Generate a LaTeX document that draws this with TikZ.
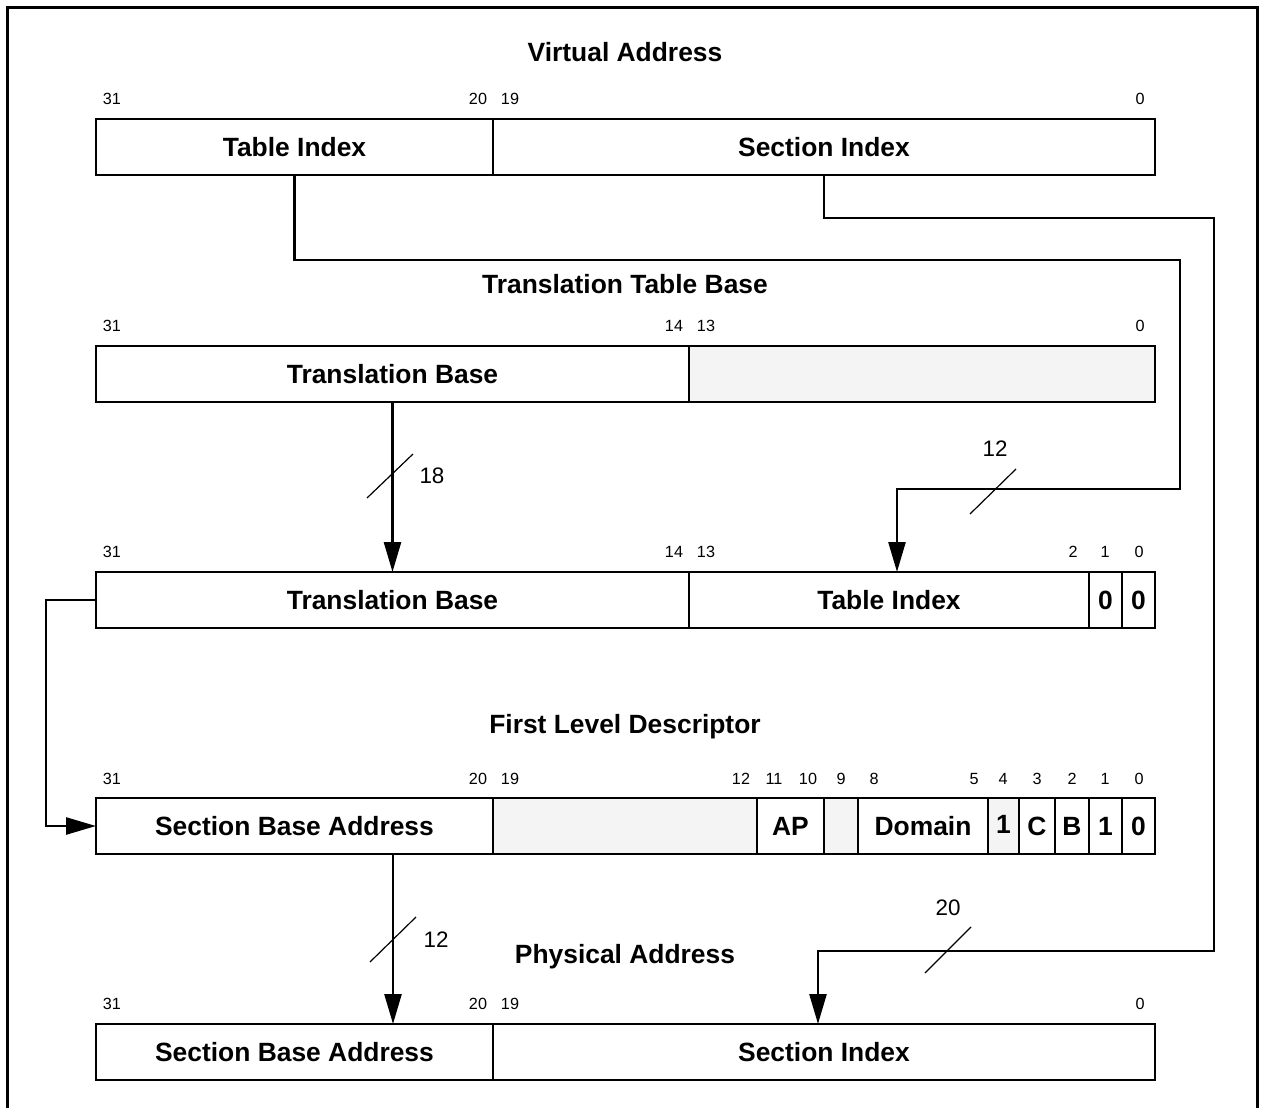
\documentclass[tikz,border=0pt]{standalone}
\usepackage{fontspec}
\setmainfont{Liberation Sans}
\usetikzlibrary{arrows.meta,calc}
\definecolor{reserved}{RGB}{244,244,244}

% one register field: [fill] name, left x, right x, top y, text
\newcommand\regfield[6][white]{%
  \node[field, fill=#1, minimum width={(#4-#3)*0.5pt}] (#2) at ({(#3+#4)/2},{#5+28}) {#6};}

\begin{document}
\begin{tikzpicture}[x=0.5pt,y=-0.5pt,
  field/.style={draw, line width=1.3pt, inner sep=0pt, outer sep=0pt,
                minimum height=28pt, font=\fontsize{13.2}{15}\selectfont\bfseries},
  bitno/.style={inner sep=0pt, font=\fontsize{8.1}{9}\selectfont},
  heading/.style={inner sep=0pt, font=\fontsize{13.2}{15}\selectfont\bfseries},
  conn/.style={line width=1.3pt},
  arr/.style={conn, -{Triangle[length=15pt,width=8.5pt]}},
  slash/.style={line width=0.6pt},
  buswidth/.style={inner sep=0pt, font=\fontsize{11.2}{13}\selectfont}]

\useasboundingbox (0,0) rectangle (1265,1108);

% frame, open at the bottom
\draw[line width=1.5pt] (7.5,1110) -- (7.5,7.5) -- (1257,7.5) -- (1257,1110);

% ---------------- Virtual address ----------------
\node[heading] (vaT) at (625,52) {Virtual Address};
\foreach \x/\b in {112/31,478/20,510/19,1140/0}
  \node[bitno] (va-b\b) at (\x,99) {\b};
\regfield{vaTI}{96}{493}{119}{Table Index}
\regfield{vaSI}{493}{1155}{119}{Section Index}

% ---------------- Translation table base ----------------
\node[heading] (ttbT) at (625,284) {Translation Table Base};
\foreach \x/\b in {112/31,674/14,706/13,1140/0}
  \node[bitno] (ttb-b\b) at (\x,326) {\b};
\regfield{ttbTB}{96}{689}{346}{Translation Base}
\regfield[reserved]{ttbR}{689}{1155}{346}{}

% ---------------- Descriptor address ----------------
\foreach \x/\b in {112/31,674/14,706/13,1073/2,1105/1,1139/0}
  \node[bitno] (da-b\b) at (\x,552) {\b};
\regfield{daTB}{96}{689}{572}{Translation Base}
\regfield{daTI}{689}{1089}{572}{Table Index}
\regfield{daB1}{1089}{1122}{572}{0}
\regfield{daB0}{1122}{1155}{572}{0}

% ---------------- First level descriptor ----------------
\node[heading] (fldT) at (625,727) {First Level Descriptor};
\foreach \x/\b in {112/31,478/20,510/19,741/12,774/11,808/10,841/9,874/8,
                   974/5,1003/4,1037/3,1072/2,1105/1,1139/0}
  \node[bitno] (fld-b\b) at (\x,779) {\b};
\regfield{fldSBA}{96}{493}{798}{Section Base Address}
\regfield[reserved]{fldR1}{493}{757}{798}{}
\regfield{fldAP}{757}{824}{798}{AP}
\regfield[reserved]{fldR2}{824}{858}{798}{}
\regfield{fldDom}{858}{988}{798}{Domain}
\regfield[reserved]{fldB4}{988}{1019}{798}{\raisebox{2pt}{1}}
\regfield{fldC}{1019}{1055}{798}{C}
\regfield{fldB}{1055}{1089}{798}{B}
\regfield{fldB1}{1089}{1122}{798}{1}
\regfield{fldB0}{1122}{1155}{798}{0}

% ---------------- Physical address ----------------
\node[heading] (paT) at (625,957) {Physical Address};
\foreach \x/\b in {112/31,478/20,510/19,1140/0}
  \node[bitno] (pa-b\b) at (\x,1004) {\b};
\regfield{paSBA}{96}{493}{1024}{Section Base Address}
\regfield{paSI}{493}{1155}{1024}{Section Index}

% ---------------- Connectors ----------------
% table index -> descriptor address
\coordinate (tiR) at (1180,260);
\coordinate (tiD) at (897,489);
\draw[arr] (vaTI.south) |- (tiR) |- (tiD) -- (tiD |- daTI.north);
\draw[slash] (970,514) -- (1016,469);
\node[buswidth] (w12a) at (995,449) {12};

% section index -> physical address
\coordinate (siR) at (1214,218);
\coordinate (siD) at (818,951);
\draw[arr] (vaSI.south) |- (siR) |- (siD) -- (siD |- paSI.north);
\draw[slash] (925,973) -- (971,927);
\node[buswidth] (w20) at (948,908) {20};

% translation base -> descriptor address
\draw[arr] (ttbTB.south) -- (daTB.north);
\draw[slash] (367,498) -- (413,454);
\node[buswidth] (w18) at (432,476) {18};

% descriptor address -> first level descriptor
\coordinate (daL) at (46,600);
\draw[arr] (daTB.west) -- (daL) |- (fldSBA.west);

% section base address -> physical address
\draw[arr] ($(fldSBA.south)+(98.5,0)$) -- ($(paSBA.north)+(98.5,0)$);
\draw[slash] (370,962) -- (416,917);
\node[buswidth] (w12b) at (436,940) {12};

\end{tikzpicture}
\end{document}
